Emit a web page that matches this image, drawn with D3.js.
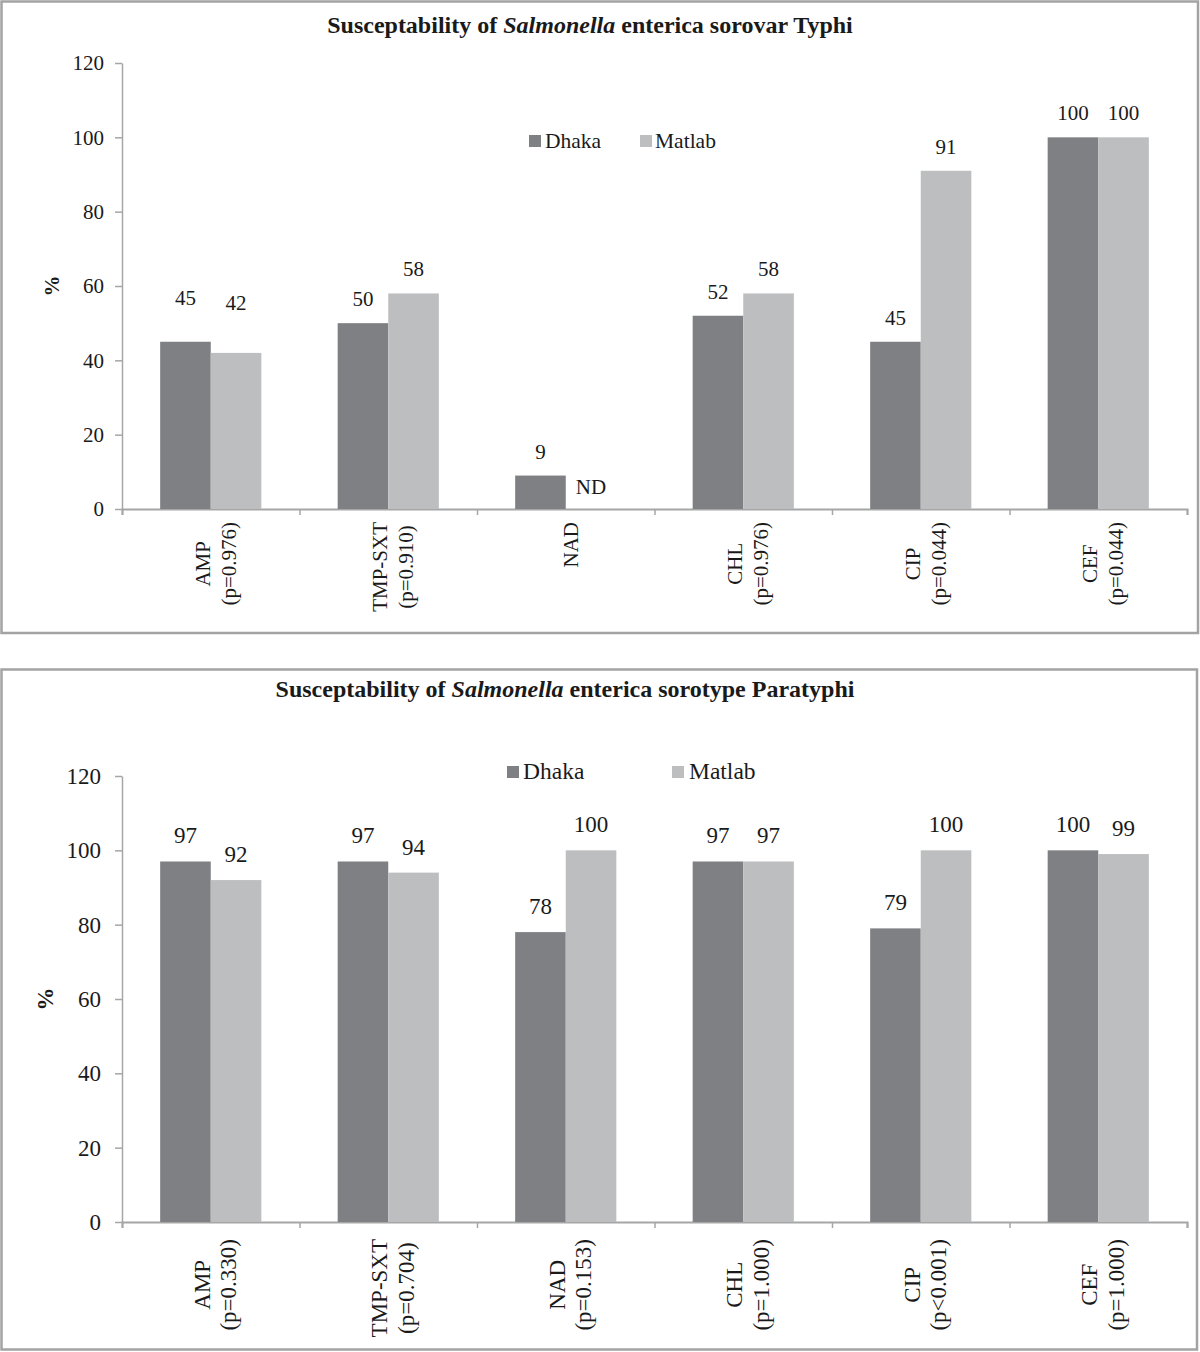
<!DOCTYPE html>
<html><head><meta charset="utf-8">
<script src="https://cdn.jsdelivr.net/npm/d3@7"></script>
<style>body{margin:0;background:#fff}svg{display:block}</style>
</head><body>
<script>
// ---------------- DATA ----------------
const categories = ["AMP", "TMP-SXT", "NAD", "CHL", "CIP", "CEF"];
const seriesNames = ["Dhaka", "Matlab"];
const typhiTitle = ["Susceptability of ", "Salmonella", " enterica sorovar Typhi"];
const paratyphiTitle = ["Susceptability of ", "Salmonella", " enterica sorotype Paratyphi"];
const typhiPValues = ["(p=0.976)", "(p=0.910)", "", "(p=0.976)", "(p=0.044)", "(p=0.044)"];
const paratyphiPValues = ["(p=0.330)", "(p=0.704)", "(p=0.153)", "(p=1.000)", "(p<0.001)", "(p=1.000)"];
const typhiDhaka = [45, 50, 9, 52, 45, 100];
const typhiMatlab = [42, 58, null, 58, 91, 100];   // null = ND (not done)
const paratyphiDhaka = [97, 97, 78, 97, 79, 100];
const paratyphiMatlab = [92, 94, 100, 97, 100, 99];
const yTicks = [0, 20, 40, 60, 80, 100, 120];
const missingLabel = "ND";
const yAxisLabel = "%";

// ---------------- DRAWING ----------------
const svg = d3.select("body").append("svg")
  .attr("width", 1200).attr("height", 1352)
  .style("font-family", "'Liberation Serif','Times New Roman',serif");

const colors = { Dhaka: "#7f8084", Matlab: "#bdbec0" };
const axisColor = "#a6a6a6";
const textColor = "#1a1a1a";

const panels = [
  {
    box: [1.5, 1.5, 1196.5, 631.5], top: 63, bottom: 509, fs: 21,
    title: typhiTitle, titleX: 590, titleY: 33,
    dhaka: typhiDhaka, matlab: typhiMatlab, pvals: typhiPValues,
    legendY: 141, legendPos: [[529, 545], [640, 655]],
    tickPad: 11, yLabelPos: [52, 286], xLabelGap: 13, lineH: 26, labOff: 17,
    nudge: { Dhaka: [20, 0, 0, 0, 0, 0], Matlab: [26, 0, 0, 0, 0, 0] }
  },
  {
    box: [1.5, 669.5, 1195.5, 680], top: 776, bottom: 1222, fs: 23,
    title: paratyphiTitle, titleX: 565, titleY: 697,
    dhaka: paratyphiDhaka, matlab: paratyphiMatlab, pvals: paratyphiPValues,
    legendY: 772, legendPos: [[507, 523], [672, 689]],
    tickPad: 14, yLabelPos: [45, 999], xLabelGap: 17, lineH: 26.5, labOff: 18,
    nudge: { Dhaka: [0, 0, 0, 0, 0, 0], Matlab: [0, 0, 0, 0, 0, 0] }
  }
];

panels.forEach(p => {
  const g = svg.append("g");
  // border
  g.append("rect").attr("x", p.box[0]).attr("y", p.box[1])
    .attr("width", p.box[2]).attr("height", p.box[3])
    .attr("fill", "#fff").attr("stroke", "#a3a3a3").attr("stroke-width", 2.5);

  // title
  const t = g.append("text").attr("x", p.titleX).attr("y", p.titleY)
    .attr("text-anchor", "middle").attr("font-weight", "bold")
    .attr("font-size", 24).attr("fill", textColor);
  t.append("tspan").text(p.title[0]);
  t.append("tspan").attr("font-style", "italic").text(p.title[1]);
  t.append("tspan").text(p.title[2]);

  const y = d3.scaleLinear().domain([0, 120]).range([p.bottom, p.top]);
  const x = d3.scaleBand().domain(categories).range([122, 1187])
    .paddingInner(0.43).paddingOuter(0.215);
  const xs = d3.scaleBand().domain(seriesNames).range([0, x.bandwidth()]);

  // y axis
  const ya = g.append("g").attr("transform", "translate(122,0)")
    .call(d3.axisLeft(y).tickValues(yTicks).tickSize(7).tickSizeOuter(0).tickPadding(p.tickPad));
  ya.select(".domain").attr("stroke", axisColor).attr("stroke-width", 1.5);
  ya.selectAll(".tick line").attr("stroke", axisColor).attr("stroke-width", 1.5);
  ya.selectAll(".tick text").attr("font-size", p.fs).attr("fill", textColor)
    .attr("font-family", "'Liberation Serif','Times New Roman',serif");

  // x axis (category boundary ticks)
  const xb = d3.scaleLinear().domain([0, categories.length]).range(x.range());
  const xa = g.append("g").attr("transform", `translate(0,${p.bottom})`)
    .call(d3.axisBottom(xb).ticks(categories.length).tickSize(6).tickSizeOuter(6).tickFormat(""));
  xa.select(".domain").attr("stroke", axisColor).attr("stroke-width", 2);
  xa.selectAll(".tick line").attr("stroke", axisColor).attr("stroke-width", 1.5);

  // bars
  const rows = categories.map((c, i) => ({ cat: c, i, vals: [p.dhaka[i], p.matlab[i]] }));
  rows.forEach(r => {
    seriesNames.forEach((s, k) => {
      const v = r.vals[k];
      const bx = x(r.cat) + xs(s);
      if (v !== null) {
        g.append("rect").attr("x", bx).attr("y", y(v))
          .attr("width", xs.bandwidth()).attr("height", y(0) - y(v))
          .attr("fill", colors[s]);
      }
      g.append("text")
        .attr("x", bx + xs.bandwidth() / 2)
        .attr("y", y(v === null ? 0 : v) - p.labOff - p.nudge[s][r.i] + (v === null ? 2 : 0))
        .attr("text-anchor", "middle").attr("font-size", p.fs).attr("fill", textColor)
        .text(v === null ? missingLabel : v);
    });
  });

  // x category labels (rotated, two lines)
  categories.forEach((c, i) => {
    const lines = [c, p.pvals[i]].filter(Boolean);
    const cx = x(c) + x.bandwidth() / 2;
    const lg = g.append("g");
    const texts = lines.map(l => lg.append("text").attr("font-size", p.fs)
      .attr("fill", textColor).attr("text-anchor", "middle").text(l));
    const maxLen = d3.max(texts, tx => tx.node().getComputedTextLength());
    const cy = p.bottom + p.xLabelGap + maxLen / 2;
    texts.forEach((tx, j) => {
      const bx = cx + (j - (lines.length - 1) / 2) * p.lineH + 12;
      tx.attr("transform", `translate(${bx},${cy}) rotate(-90)`);
    });
  });

  // y-axis title
  g.append("text").attr("transform", `translate(${p.yLabelPos[0]},${p.yLabelPos[1]}) rotate(-90)`)
    .attr("text-anchor", "middle").attr("dominant-baseline", "central")
    .attr("font-weight", "bold").attr("font-size", p.fs).attr("fill", textColor)
    .text(yAxisLabel);

  // legend
  seriesNames.forEach((s, k) => {
    const [sx, tx] = p.legendPos[k];
    g.append("rect").attr("x", sx).attr("y", p.legendY - 6).attr("width", 12).attr("height", 12)
      .attr("fill", colors[s]);
    g.append("text").attr("x", tx).attr("y", p.legendY + 7).attr("font-size", p.fs + 0.5)
      .attr("fill", textColor).text(s);
  });
});
</script>
</body></html>
